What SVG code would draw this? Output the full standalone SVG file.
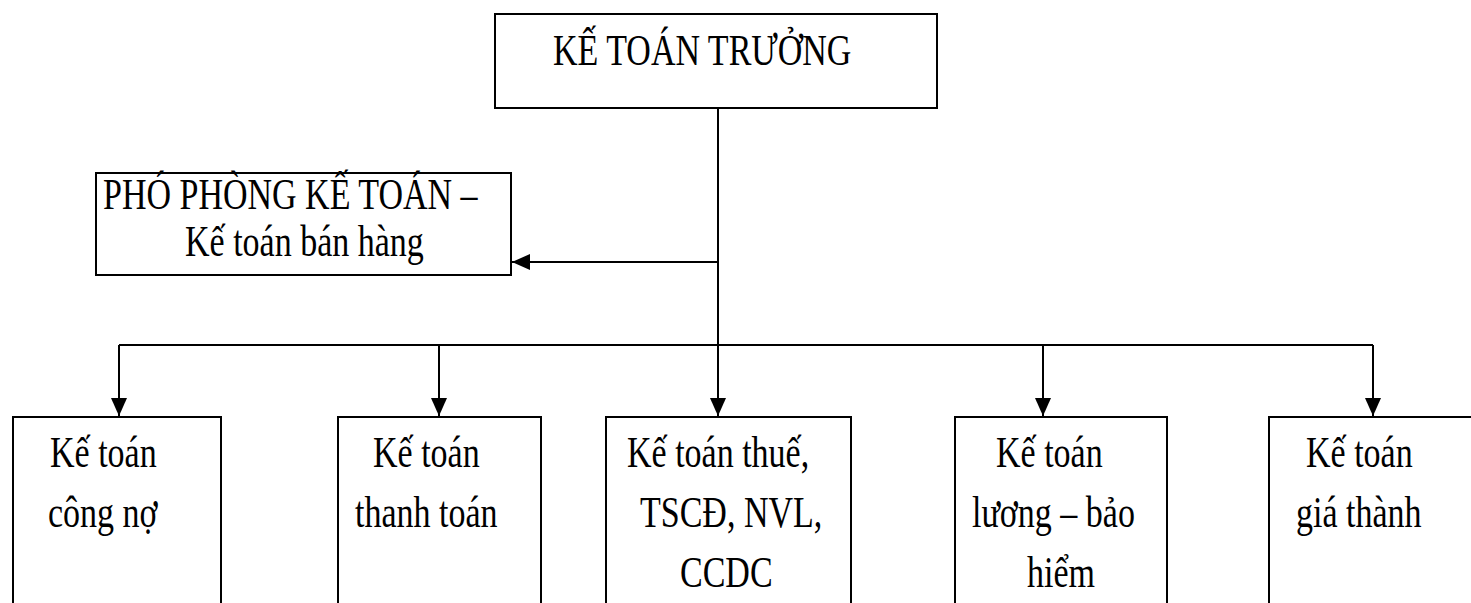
<svg xmlns="http://www.w3.org/2000/svg" width="1471" height="603" viewBox="0 0 1471 603">
<style>
.box{fill:#fff;stroke:#000;stroke-width:2}
.t{font-family:"Liberation Serif","Times New Roman",serif;font-size:34px;fill:#000}
.ln{fill:none;stroke:#000;stroke-width:2}
</style>
<defs>
<marker id="ah" markerUnits="userSpaceOnUse" markerWidth="18" markerHeight="16" viewBox="0 0 18 16" refX="18" refY="8" orient="auto">
<path d="M0,0 L18,8 L0,16 Z" fill="#000"/>
</marker>
</defs>
<rect width="1471" height="603" fill="#fff"/>
<g id="connectors">
<line class="ln" x1="718" y1="108" x2="718" y2="345"/>
<line class="ln" x1="718" y1="262" x2="512" y2="262" marker-end="url(#ah)"/>
<line class="ln" x1="119" y1="345" x2="1373" y2="345"/>
<line class="ln" x1="119" y1="345" x2="119" y2="416" marker-end="url(#ah)"/>
<line class="ln" x1="439" y1="345" x2="439" y2="416" marker-end="url(#ah)"/>
<line class="ln" x1="718" y1="345" x2="718" y2="416" marker-end="url(#ah)"/>
<line class="ln" x1="1043" y1="345" x2="1043" y2="416" marker-end="url(#ah)"/>
<line class="ln" x1="1373" y1="345" x2="1373" y2="416" marker-end="url(#ah)"/>
</g>
<g id="ke-toan-truong">
<rect class="box" x="495" y="14" width="442" height="94"/>
<text class="t" transform="translate(553,65) scale(1,1.3)">KẾ TOÁN TRƯỞNG</text>
</g>
<g id="pho-phong">
<rect class="box" x="96" y="173" width="415" height="102"/>
<text class="t" transform="translate(103,209) scale(1,1.3)">PHÓ PHÒNG KẾ TOÁN –</text>
<text class="t" transform="translate(185,256) scale(1,1.3)">Kế toán bán hàng</text>
</g>
<g id="cong-no">
<rect class="box" x="13" y="417" width="208" height="210"/>
<text class="t" transform="translate(50,467) scale(1,1.3)">Kế toán</text>
<text class="t" transform="translate(48,527) scale(1,1.3)">công nợ</text>
</g>
<g id="thanh-toan">
<rect class="box" x="338" y="417" width="203" height="210"/>
<text class="t" transform="translate(373,467) scale(1,1.3)">Kế toán</text>
<text class="t" transform="translate(355,527) scale(1,1.3)">thanh toán</text>
</g>
<g id="thue">
<rect class="box" x="606" y="417" width="245" height="210"/>
<text class="t" transform="translate(627,467) scale(1,1.3)">Kế toán thuế,</text>
<text class="t" transform="translate(640,527) scale(1,1.3)">TSCĐ, NVL,</text>
<text class="t" transform="translate(680,587) scale(1,1.3)">CCDC</text>
</g>
<g id="luong">
<rect class="box" x="955" y="417" width="212" height="210"/>
<text class="t" transform="translate(996,467) scale(1,1.3)">Kế toán</text>
<text class="t" transform="translate(972,527) scale(1,1.3)">lương – bảo</text>
<text class="t" transform="translate(1027,587) scale(1,1.3)">hiểm</text>
</g>
<g id="gia-thanh">
<rect class="box" x="1269" y="417" width="230" height="210"/>
<text class="t" transform="translate(1306,467) scale(1,1.3)">Kế toán</text>
<text class="t" transform="translate(1296,527) scale(1,1.3)">giá thành</text>
</g>
</svg>
